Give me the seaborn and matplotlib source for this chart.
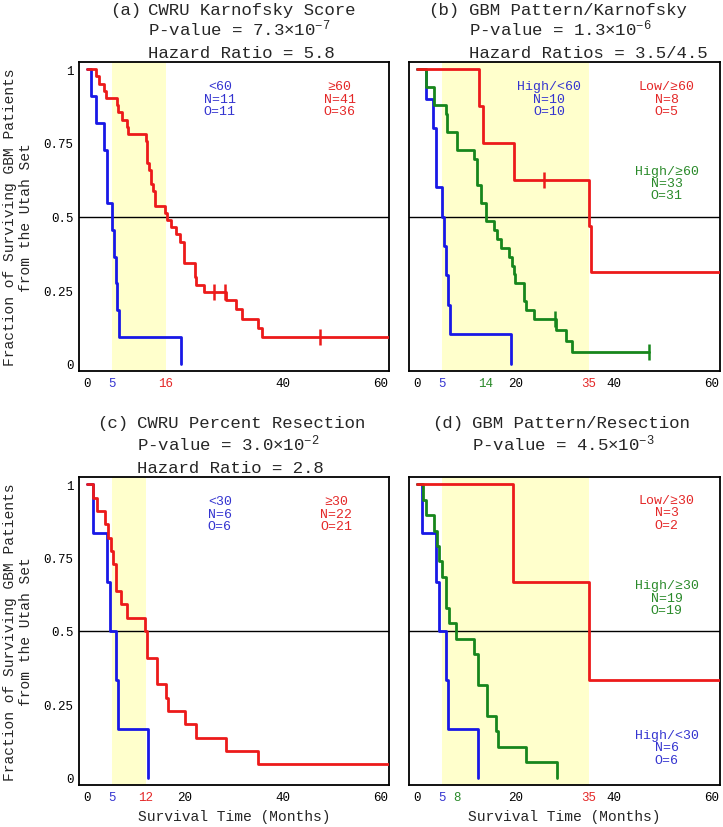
import matplotlib
matplotlib.use("Agg")
import matplotlib.pyplot as plt
import seaborn as sns

# Kaplan-Meier step curves (time in months, fraction surviving)

# (a) CWRU Karnofsky score
A_LOW_T = [0, 0.7, 1.7, 3.5, 4.1, 5.0, 5.5, 5.9, 6.1, 6.5, 19.1]
A_LOW_S = [1, 0.909, 0.818, 0.727, 0.545, 0.455, 0.364, 0.273, 0.182, 0.091, 0]
A_HIGH_T = [0, 1.7, 2.3, 3.5, 3.8, 6.0, 6.3, 7.0, 8.2, 8.4,
            12.0, 12.2, 12.7, 13.0, 13.5, 13.8, 15.9, 16.2, 17.2, 18.2,
            18.9, 19.7, 22.0, 22.3, 23.9, 28.4, 30.5, 31.6, 35.0, 35.7, 65]
A_HIGH_S = [1, 0.976, 0.951, 0.927, 0.902, 0.878, 0.854, 0.829, 0.805, 0.780,
            0.756, 0.683, 0.659, 0.610, 0.585, 0.537, 0.512, 0.488, 0.463, 0.439,
            0.415, 0.341, 0.293, 0.268, 0.244, 0.215, 0.184, 0.153, 0.122, 0.091, 0.091]
A_HIGH_CENS_T = [25.9, 28.1, 47.5]
A_HIGH_CENS_S = [0.244, 0.244, 0.091]

# (b) GBM pattern / Karnofsky
B_HIGH_LOW_T = [0, 1.7, 3.2, 3.8, 5.0, 5.5, 5.9, 6.3, 6.7, 19.1]
B_HIGH_LOW_S = [1, 0.9, 0.8, 0.6, 0.5, 0.4, 0.3, 0.2, 0.1, 0]
B_HIGH_HIGH_T = [0, 1.8, 3.4, 5.85, 6.1, 8.0, 11.6, 12.2, 12.9, 13.9,
                 15.7, 16.3, 17.1, 18.6, 19.3, 19.7, 19.9, 21.8, 22.1, 23.7,
                 28.3, 30.4, 31.5, 47.3]
B_HIGH_HIGH_S = [1, 0.939, 0.879, 0.848, 0.788, 0.727, 0.697, 0.606, 0.545, 0.485,
                 0.455, 0.424, 0.394, 0.364, 0.333, 0.303, 0.273, 0.212, 0.182, 0.152,
                 0.114, 0.076, 0.038, 0.038]
B_HIGH_HIGH_CENS_T = [28.1, 47.3]
B_HIGH_HIGH_CENS_S = [0.152, 0.038]
B_LOW_HIGH_T = [0, 12.6, 13.3, 19.7, 34.9, 35.5, 65]
B_LOW_HIGH_S = [1, 0.875, 0.75, 0.625, 0.469, 0.3125, 0.3125]
B_LOW_HIGH_CENS_T = [25.8]
B_LOW_HIGH_CENS_S = [0.625]

# (c) CWRU percent resection
C_LOW_T = [0, 1.1, 4.1, 4.6, 5.9, 6.3, 12.4]
C_LOW_S = [1, 0.833, 0.667, 0.5, 0.333, 0.167, 0]
C_HIGH_T = [0, 1.1, 1.9, 3.6, 4.3, 4.8, 5.3, 5.9, 6.8, 8.2,
            11.8, 12.3, 14.3, 16.1, 16.4, 19.9, 22.3, 28.4, 34.9, 65]
C_HIGH_S = [1, 0.955, 0.909, 0.864, 0.818, 0.773, 0.727, 0.636, 0.591, 0.545,
            0.5, 0.409, 0.318, 0.273, 0.227, 0.182, 0.136, 0.091, 0.045, 0.045]

# (d) GBM pattern / resection
D_HIGH_LOW_T = [0, 1.0, 3.8, 4.5, 5.85, 6.3, 12.4]
D_HIGH_LOW_S = [1, 0.833, 0.667, 0.5, 0.333, 0.167, 0]
D_HIGH_HIGH_T = [0, 1.2, 1.8, 3.4, 4.1, 4.5, 5.1, 5.85, 6.5, 7.9,
                 11.6, 12.3, 14.1, 16.0, 16.4, 22.15, 28.5]
D_HIGH_HIGH_S = [1, 0.947, 0.895, 0.842, 0.789, 0.737, 0.684, 0.579, 0.526, 0.474,
                 0.421, 0.316, 0.211, 0.158, 0.105, 0.053, 0]
D_LOW_HIGH_T = [0, 19.6, 34.9, 65]
D_LOW_HIGH_S = [1, 0.667, 0.333, 0.333]

PANEL_TITLES = ["CWRU Karnofsky Score", "GBM Pattern/Karnofsky",
                "CWRU Percent Resection", "GBM Pattern/Resection"]
PANEL_STATS = [
    [r"P-value = 7.3$\times$10$^{-7}$", "Hazard Ratio = 5.8"],
    [r"P-value = 1.3$\times$10$^{-6}$", "Hazard Ratios = 3.5/4.5"],
    [r"P-value = 3.0$\times$10$^{-2}$", "Hazard Ratio = 2.8"],
    [r"P-value = 4.5$\times$10$^{-3}$"],
]
SHADE_END = [16, 35, 12, 35]
XTICKS = [[0, 5, 16, 40, 60], [0, 5, 14, 20, 35, 40, 60],
          [0, 5, 12, 20, 40, 60], [0, 5, 8, 20, 35, 40, 60]]
YTICKS = [0, 0.25, 0.5, 0.75, 1]
YTICK_LABELS = ["0", "0.25", "0.5", "0.75", "1"]

BLUE = "#1818E6"
RED = "#EC1A1A"
GREEN = "#17861C"
BLUE_TXT = "#3434D0"
RED_TXT = "#E42828"
GREEN_TXT = "#2A8A2A"
SHADE = "#FFFFCC"

XTICK_COLORS = [["k", BLUE_TXT, RED_TXT, "k", "k"],
                ["k", BLUE_TXT, GREEN_TXT, "k", RED_TXT, "k", "k"],
                ["k", BLUE_TXT, RED_TXT, "k", "k", "k"],
                ["k", BLUE_TXT, GREEN_TXT, "k", RED_TXT, "k", "k"]]

sns.set_style("white")
plt.rcParams["font.family"] = ["Liberation Mono", "DejaVu Sans"]
plt.rcParams["mathtext.default"] = "regular"

fig = plt.figure(figsize=(7.23, 8.28), dpi=100)

# axes placed to match the reference layout (pixel measurements / figure size)
positions = [
    [79 / 723, 456 / 828, 310 / 723, 309 / 828],
    [409 / 723, 456 / 828, 311 / 723, 309 / 828],
    [79 / 723, 42 / 828, 310 / 723, 308 / 828],
    [409 / 723, 42 / 828, 311 / 723, 308 / 828],
]
axes = [fig.add_axes(p) for p in positions]

curves = [
    [(A_LOW_T, A_LOW_S, BLUE), (A_HIGH_T, A_HIGH_S, RED)],
    [(B_HIGH_LOW_T, B_HIGH_LOW_S, BLUE), (B_HIGH_HIGH_T, B_HIGH_HIGH_S, GREEN),
     (B_LOW_HIGH_T, B_LOW_HIGH_S, RED)],
    [(C_LOW_T, C_LOW_S, BLUE), (C_HIGH_T, C_HIGH_S, RED)],
    [(D_HIGH_LOW_T, D_HIGH_LOW_S, BLUE), (D_HIGH_HIGH_T, D_HIGH_HIGH_S, GREEN),
     (D_LOW_HIGH_T, D_LOW_HIGH_S, RED)],
]
censors = [
    [(A_HIGH_CENS_T, A_HIGH_CENS_S, RED)],
    [(B_HIGH_HIGH_CENS_T, B_HIGH_HIGH_CENS_S, GREEN),
     (B_LOW_HIGH_CENS_T, B_LOW_HIGH_CENS_S, RED)],
    [],
    [],
]
# group labels: (x, y) in data coords, text, colour
notes = [
    [(27.1, 0.90, "<60\nN=11\nO=11", BLUE_TXT), (51.6, 0.90, "≥60\nN=41\nO=36", RED_TXT)],
    [(26.9, 0.90, "High/<60\nN=10\nO=10", BLUE_TXT), (50.8, 0.90, "Low/≥60\nN=8\nO=5", RED_TXT),
     (50.8, 0.614, "High/≥60\nN=33\nO=31", GREEN_TXT)],
    [(27.1, 0.90, "<30\nN=6\nO=6", BLUE_TXT), (50.9, 0.90, "≥30\nN=22\nO=21", RED_TXT)],
    [(50.8, 0.904, "Low/≥30\nN=3\nO=2", RED_TXT), (50.8, 0.613, "High/≥30\nN=19\nO=19", GREEN_TXT),
     (50.8, 0.103, "High/<30\nN=6\nO=6", BLUE_TXT)],
]
letter_x = [0.100, 0.061, 0.057, 0.073]
text_x = [0.2226, 0.194, 0.186, 0.2016]
title_y = [[1.155, 1.087, 1.015], [1.155, 1.087, 1.015],
           [1.161, 1.089, 1.015], [1.161, 1.089]]

for i, ax in enumerate(axes):
    ax.axvspan(5, SHADE_END[i], color=SHADE, lw=0, zorder=0)
    ax.axhline(0.5, color="black", lw=1.0, zorder=1)

    for t, s, c in curves[i]:
        sns.lineplot(x=t, y=s, ax=ax, color=c, lw=2.0, drawstyle="steps-post",
                     estimator=None, sort=False, legend=False, zorder=3)
    for t, s, c in censors[i]:
        ax.plot(t, s, ls="none", marker="|", ms=11, mew=1.8, color=c, zorder=4)

    for x, y, txt, c in notes[i]:
        ax.text(x, y, txt, color=c, fontsize=9.5, ha="center", va="center",
                multialignment="center", linespacing=1.05)

    ax.set_xlim(-1.7, 61.7)
    ax.set_ylim(-0.025, 1.025)
    ax.set_xticks(XTICKS[i])
    ax.set_xticklabels([str(v) for v in XTICKS[i]])
    ax.set_yticks(YTICKS)
    if i % 2 == 0:
        ax.set_yticklabels(YTICK_LABELS)
        ax.set_ylabel("Fraction of Surviving GBM Patients\nfrom the Utah Set",
                      fontsize=10.5, linespacing=1.15)
        # right edge of the rotated two-line label sits ~46 px left of the axes
        ax.yaxis.set_label_coords(-0.148, 0.5)
    else:
        ax.set_yticklabels([])
        ax.set_ylabel("")
    if i >= 2:
        ax.set_xlabel("Survival Time (Months)", fontsize=10.5, labelpad=5)
    else:
        ax.set_xlabel("")

    ax.tick_params(direction="in", length=3.5, width=1, labelsize=9, pad=4,
                   top=False, right=False, colors="black")
    for lab, c in zip(ax.get_xticklabels(), XTICK_COLORS[i]):
        lab.set_color(c)
    for sp in ax.spines.values():
        sp.set_color("black")
        sp.set_linewidth(1.3)

    # stacked title: panel letter hangs left of the text block
    letter = "(" + "abcd"[i] + ")"
    ax.text(letter_x[i], title_y[i][0], letter, transform=ax.transAxes,
            fontsize=12.5, ha="left", va="baseline")
    lines = [PANEL_TITLES[i]] + PANEL_STATS[i]
    for line, y in zip(lines, title_y[i]):
        ax.text(text_x[i], y, line, transform=ax.transAxes,
                fontsize=12.5, ha="left", va="baseline")

fig.savefig("out.png", dpi=100)
